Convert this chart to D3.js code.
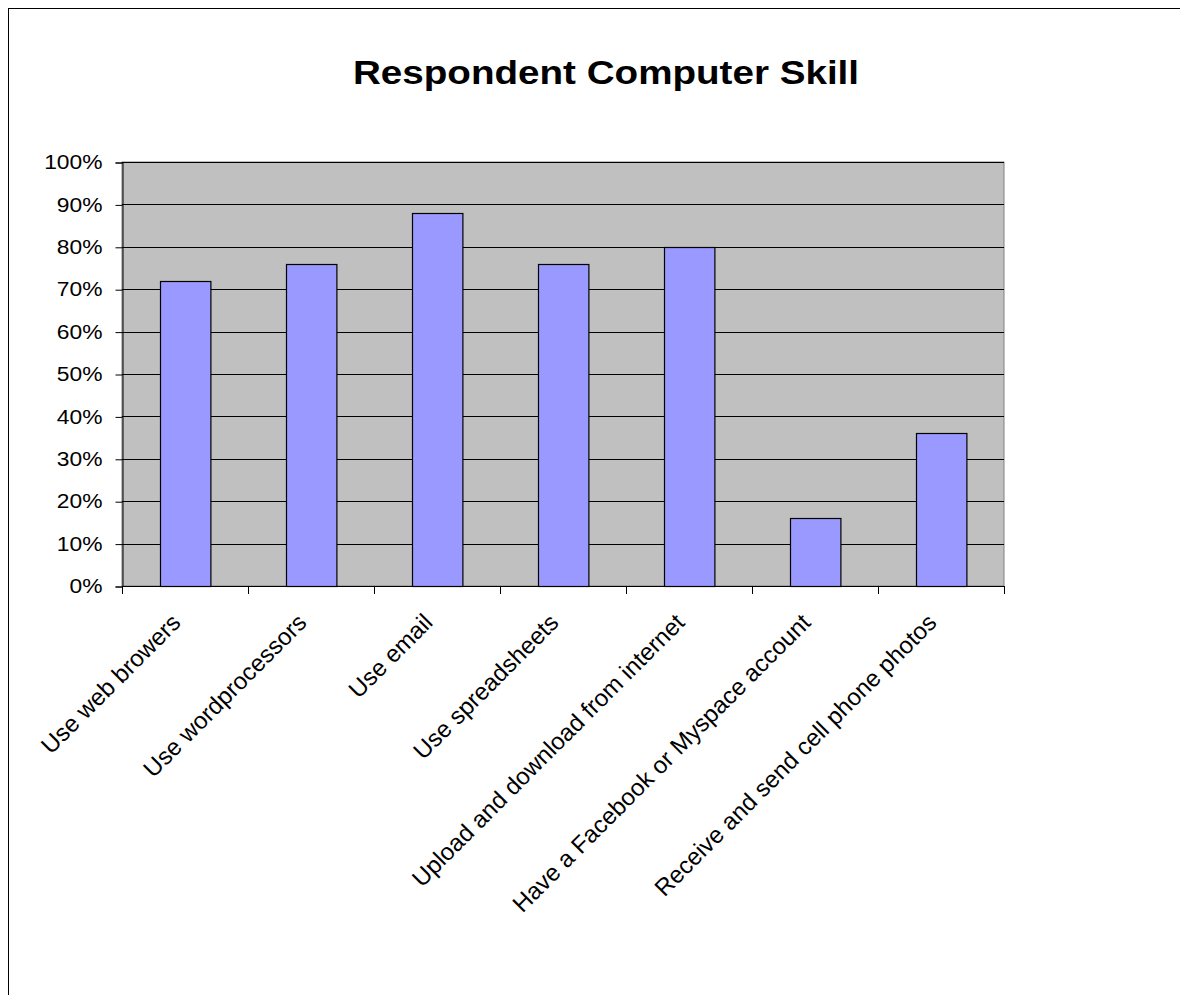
<!DOCTYPE html>
<html>
<head>
<meta charset="utf-8">
<script src="https://cdn.jsdelivr.net/npm/d3@7/dist/d3.min.js"></script>
<style>
  html, body { margin: 0; padding: 0; background: #ffffff; }
  svg { display: block; font-family: 'Liberation Sans', Arial, sans-serif; }
</style>
</head>
<body>
<div id="chart"></div>
<script>
// Chart data
const categories = [
  'Use web browers',
  'Use wordprocessors',
  'Use email',
  'Use spreadsheets',
  'Upload and download from internet',
  'Have a Facebook or Myspace account',
  'Receive and send cell phone photos'
]
const values = [0.72, 0.76, 0.88, 0.76, 0.80, 0.16, 0.36]
const yTicks = [0, 0.1, 0.2, 0.3, 0.4, 0.5, 0.6, 0.7, 0.8, 0.9, 1.0]
const title = 'Respondent Computer Skill'

const width = 1180
const height = 995
const plot = { left: 122, right: 1004, top: 162, bottom: 586 }
// the original picture is stretched sideways a little, text included
const stretch = 1.17

const svg = d3.select('#chart').append('svg')
  .attr('width', width)
  .attr('height', height)

// outer chart frame (runs off the right and bottom of the window)
svg.append('rect')
  .attr('x', 8.5).attr('y', 8.5)
  .attr('width', width + 20).attr('height', height + 20)
  .attr('fill', '#ffffff')
  .attr('stroke', '#000000')

svg.append('text')
  .attr('transform', `translate(606,84) scale(${stretch},1)`)
  .attr('text-anchor', 'middle')
  .attr('font-size', 33)
  .attr('font-weight', 'bold')
  .attr('fill', '#000')
  .text(title)

const x = d3.scaleBand()
  .domain(categories)
  .range([plot.left, plot.right])
  .paddingInner(0.6)
  .paddingOuter(0.3)

const y = d3.scaleLinear().domain([0, 1]).range([plot.bottom, plot.top])

// plot area background
svg.append('rect')
  .attr('x', plot.left).attr('y', plot.top)
  .attr('width', plot.right - plot.left).attr('height', plot.bottom - plot.top)
  .attr('fill', '#c0c0c0')
  .attr('stroke', '#808080')

// gridlines
svg.append('g').selectAll('line')
  .data(yTicks.filter(d => d > 0))
  .join('line')
  .attr('x1', plot.left).attr('x2', plot.right)
  .attr('y1', d => Math.round(y(d)) + 0.5).attr('y2', d => Math.round(y(d)) + 0.5)
  .attr('stroke', '#000')

// bars
svg.append('g').selectAll('rect')
  .data(values)
  .join('rect')
  .attr('x', (d, i) => Math.round(x(categories[i])) + 0.5)
  .attr('y', d => Math.round(y(d)) + 0.5)
  .attr('width', x.bandwidth())
  .attr('height', d => Math.round(y(0)) - Math.round(y(d)))
  .attr('fill', '#9999ff')
  .attr('stroke', '#000')
  .attr('stroke-width', 1.2)

// y axis
const yAxis = d3.axisLeft(y)
  .tickValues(yTicks)
  .tickFormat(d3.format('.0%'))
  .tickSize(7)
  .tickPadding(13)
const gy = svg.append('g')
  .attr('transform', `translate(${plot.left + 0.5},0.5)`)
  .call(yAxis)
gy.select('.domain').attr('stroke', '#000')
gy.selectAll('line').attr('stroke', '#000')
gy.selectAll('text')
  .attr('font-size', 19.5)
  .attr('font-family', "'Liberation Sans', Arial, sans-serif")
  .attr('fill', '#000')
  .each(function () {
    const t = d3.select(this)
    const tx = +t.attr('x')
    t.attr('x', 0).attr('transform', `translate(${tx},0) scale(${stretch},1)`)
  })

// x axis: ticks at band boundaries
const step = x.step()
const boundaries = d3.range(categories.length + 1).map(i => plot.left + i * step)
svg.append('line')
  .attr('x1', plot.left).attr('x2', plot.right)
  .attr('y1', plot.bottom + 0.5).attr('y2', plot.bottom + 0.5)
  .attr('stroke', '#000')
svg.append('g').selectAll('line')
  .data(boundaries)
  .join('line')
  .attr('x1', d => Math.round(d) + 0.5).attr('x2', d => Math.round(d) + 0.5)
  .attr('y1', plot.bottom).attr('y2', plot.bottom + 8)
  .attr('stroke', '#000')

svg.append('g').selectAll('text')
  .data(categories)
  .join('text')
  .attr('transform', d => `translate(${x(d) + x.bandwidth() / 2 - 15},${plot.bottom + 26}) rotate(-45)`)
  .attr('text-anchor', 'end')
  .attr('dy', '0.71em')
  .attr('font-size', 24)
  .attr('fill', '#000')
  .text(d => d)
</script>
</body>
</html>
